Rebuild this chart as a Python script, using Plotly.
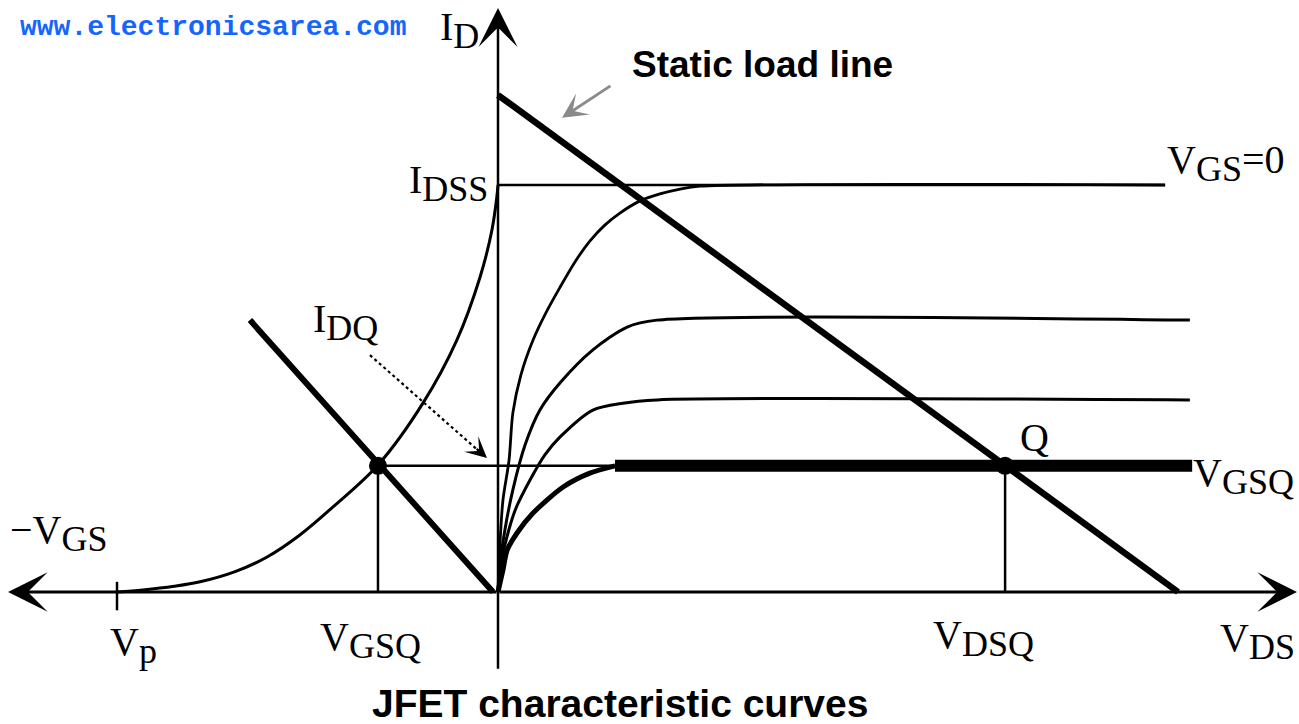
import plotly.graph_objects as go

# ---------------- data (x: VGS / VDS, arbitrary volts; y: ID, arbitrary mA) ----
VP = -10.0          # pinch-off voltage
IDSS = 10.0         # saturation current at VGS = 0
VGSQ = -3.15        # quiescent gate-source voltage
IDQ = 3.1           # quiescent drain current
VDSQ = 13.31        # quiescent drain-source voltage
VDD = 17.85         # load line intercept on the VDS axis
ID_MAX = 12.21      # load line intercept on the ID axis

# transfer characteristic (left quadrant)
transfer_vgs = [-10.0, -9.32, -8.5, -7.82, -6.9, -6.06, -5.2, -4.33, -3.15, -1.97, -1.08, -0.47, -0.16, -0.03, 0.0]
transfer_id = [0.0, 0.05, 0.14, 0.25, 0.5, 0.86, 1.4, 2.09, 3.12, 4.64, 6.19, 7.74, 8.89, 9.71, 10.0]

# output characteristics (right quadrant)
c1_vds = [0.0, 0.05, 0.13, 0.29, 0.39, 0.60, 0.92, 1.23, 1.63, 2.02, 2.41, 2.81, 3.20, 3.73, 4.25, 4.78, 5.3]
c1_id = [0.0, 1.15, 2.26, 3.24, 4.40, 5.33, 6.19, 6.81, 7.49, 8.11, 8.62, 9.02, 9.31, 9.61, 9.78, 9.90, 9.97]
c1_end = 17.51

c2_vds = [0.0, 0.05, 0.18, 0.39, 0.71, 1.10, 1.63, 2.49, 3.39, 4.17, 18.16]
c2_id = [0.0, 0.66, 1.52, 2.51, 3.61, 4.47, 5.14, 5.95, 6.51, 6.68, 6.68]

c3_vds = [0.0, 0.05, 0.18, 0.45, 0.84, 1.23, 1.63, 2.49, 3.28, 4.17, 18.16]
c3_id = [0.0, 0.54, 1.15, 2.01, 2.75, 3.37, 3.81, 4.47, 4.64, 4.72, 4.72]

cq_vds = [0.0, 0.13, 0.24, 0.50, 0.92, 1.71, 2.41, 3.07]
cq_id = [0.0, 0.54, 1.03, 1.45, 1.94, 2.58, 2.92, 3.1]
cq_end = 18.22

# bias (gate) line
bias_vgs = [-6.51, -0.13]
bias_id = [6.68, 0.0]

# axis extents
x_left, x_right = -12.86, 20.97
y_bottom, y_top = -1.92, 14.35

X_RANGE = [-13.071, 21.024]
Y_RANGE = [-3.243, 14.545]

fig = go.Figure()

def line(x, y, w=3, color="black", shape="linear", dash="solid", smooth=0.8):
    fig.add_trace(go.Scatter(x=x, y=y, mode="lines", hoverinfo="skip",
                             line=dict(color=color, width=w, shape=shape, dash=dash,
                                       smoothing=smooth if shape == "spline" else None)))

# reference lines
line([0, c1_end], [IDSS, IDSS], 2.5)
line([VGSQ, cq_vds[-1]], [IDQ, IDQ], 2.5)
line([VGSQ, VGSQ], [IDQ, 0], 2.5)
line([VDSQ, VDSQ], [IDQ, 0], 2.5)
line([VP, VP], [0.25, -0.45], 2.5)

# curves
line(transfer_vgs, transfer_id, 3, shape="spline", smooth=1.0)
line(c1_vds + [c1_end], c1_id + [IDSS], 2.8, shape="spline")
line(c2_vds, c2_id, 3, shape="spline")
line(c3_vds, c3_id, 3, shape="spline")
line(cq_vds, cq_id, 5, shape="spline")
line([cq_vds[-1], cq_end], [IDQ, IDQ], 12)

# load line and bias line
line([0, VDD], [ID_MAX, 0], 6.5)
line(bias_vgs, bias_id, 6)

# Q points
fig.add_trace(go.Scatter(x=[VGSQ, VDSQ], y=[IDQ, IDQ], mode="markers", hoverinfo="skip",
                         marker=dict(color="black", size=18)))

# IDQ dotted pointer
line([-3.36, -0.45], [5.82, 3.42], 2.2, dash="dot")

annotations = []

def arrow(x, y, ax, ay, w=3, color="black", size=1.0, head=3):
    annotations.append(dict(x=x, y=y, ax=ax, ay=ay, xref="x", yref="y", axref="x", ayref="y",
                            text="", showarrow=True, arrowhead=head, arrowsize=size,
                            arrowwidth=w, arrowcolor=color))

# axes with arrowheads
arrow(x_left, 0, 0, 0, 3, size=2.2)
arrow(x_right, 0, 0, 0, 3, size=2.2)
arrow(0, y_top, 0, y_bottom, 2.5, size=2.6)
# pointer arrowheads
arrow(1.68, 11.65, 2.99, 12.46, 2.8, color="#8a8a8a", size=1.5)
arrow(-0.29, 3.29, -0.6, 3.55, 2.2, size=1.6)

SERIF = "Liberation Serif, Times New Roman, serif"
SANS = "Liberation Sans, Arial, sans-serif"

def sub(main, s, tail="", ss=36):
    return f"{main}<sub><span style='font-size:{ss}px'>{s}</span></sub>{tail}"

def label(text, px, py, xa="left", size=40, family=SERIF, color="black", bold=False):
    annotations.append(dict(x=px / 1299, y=1 - py / 724, xref="paper", yref="paper",
                            text=f"<b>{text}</b>" if bold else text, showarrow=False,
                            xanchor=xa, yanchor="middle",
                            font=dict(size=size, family=family, color=color)))

label(sub("I", "D"), 438, 30)
label(sub("I", "DSS"), 490, 183, xa="right")
label(sub("V", "GS", "=0"), 1165, 163)
label(sub("V", "GSQ"), 1191, 476)
label("Q", 1018, 438)
label("\u2212" + sub("V", "GS"), 8, 533)
label(sub("V", "p"), 108, 645)
label(sub("V", "GSQ"), 318, 640)
label(sub("V", "DSQ"), 931, 638)
label(sub("V", "DS"), 1218, 641)
label(sub("I", "DQ"), 311, 322)
label("Static load line", 630, 64, size=37, family=SANS, bold=True)
label("JFET characteristic curves", 620, 703, xa="center", size=39, family=SANS, bold=True)
label("www.electronicsarea.com", 18, 27, size=28,
      family="Liberation Mono, DejaVu Sans Mono, monospace", color="#1565ff", bold=True)

fig.update_layout(
    width=1299, height=724,
    margin=dict(l=0, r=0, t=0, b=0),
    paper_bgcolor="white", plot_bgcolor="white",
    showlegend=False,
    xaxis=dict(range=X_RANGE, visible=False, fixedrange=True),
    yaxis=dict(range=Y_RANGE, visible=False, fixedrange=True),
    annotations=annotations,
)

fig.write_html("out.html",
               config={"displayModeBar": False},
               post_script="document.body.style.margin='0';document.body.style.overflow='hidden';")
